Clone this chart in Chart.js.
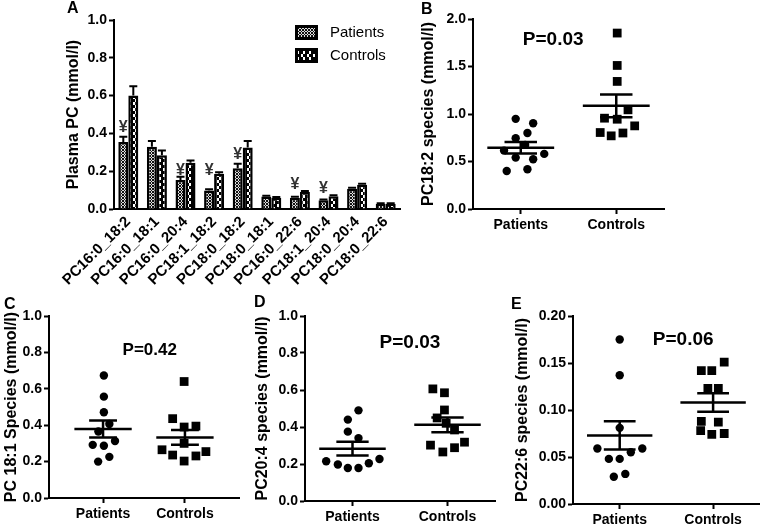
<!DOCTYPE html>
<html>
<head>
<meta charset="utf-8">
<script src="https://cdn.jsdelivr.net/npm/chart.js@4.4.0/dist/chart.umd.min.js"></script>
<style>
  html, body { margin: 0; padding: 0; background: #fff; }
  body { width: 766px; height: 527px; position: relative; overflow: hidden; }
  canvas { position: absolute; }
</style>
</head>
<body>
<canvas id="panelA" width="410" height="300" style="left:0;top:0"></canvas>
<canvas id="panelB" width="266" height="240" style="left:410px;top:0"></canvas>
<canvas id="panelC" width="255" height="237" style="left:0;top:290px"></canvas>
<canvas id="panelD" width="262" height="237" style="left:250px;top:290px"></canvas>
<canvas id="panelE" width="258" height="237" style="left:508px;top:290px"></canvas>
<script>
/* ---- data ---- */
const groups = ['Patients', 'Controls'];

// panel A: plasma PC species, mean and SEM
const categories = ['PC16:0_18:2', 'PC16:0_18:1', 'PC16:0_20:4', 'PC18:1_18:2', 'PC18:0_18:2',
                    'PC18:0_18:1', 'PC16:0_22:6', 'PC18:1_20:4', 'PC18:0_20:4', 'PC18:0_22:6'];
const patientsMean = [0.355, 0.33, 0.153, 0.098, 0.215, 0.066, 0.060, 0.046, 0.107, 0.028];
const patientsSem  = [0.027, 0.030, 0.018, 0.006, 0.025, 0.004, 0.005, 0.004, 0.006, 0.002];
const controlsMean = [0.600, 0.285, 0.245, 0.187, 0.325, 0.060, 0.090, 0.068, 0.128, 0.028];
const controlsSem  = [0.050, 0.025, 0.012, 0.008, 0.035, 0.004, 0.005, 0.005, 0.006, 0.002];
const yenHeights   = [0.43, null, 0.205, 0.205, 0.29, null, 0.13, 0.11, null, null];

// panel B: PC18:2 species, [x, value]
const pc182Patients = [[0.447, 0.949], [0.63, 0.903], [0.57, 0.80], [0.447, 0.745], [0.546, 0.675],
                       [0.325, 0.615], [0.447, 0.541], [0.63, 0.524], [0.746, 0.58], [0.353, 0.40], [0.57, 0.418]];
const pc182Controls = [[1.51, 1.852], [1.51, 1.511], [1.51, 1.343], [1.623, 1.044], [1.377, 0.956],
                       [1.51, 0.945], [1.693, 0.875], [1.332, 0.805], [1.447, 0.77], [1.57, 0.80]];
const pc182Mean = [0.645, 1.086];
const pc182Sem  = [0.06, 0.12];

// panel C: PC 18:1 species
const pc181Patients = [[0.51, 0.673], [0.51, 0.557], [0.51, 0.471], [0.577, 0.407], [0.443, 0.365],
                       [0.646, 0.313], [0.374, 0.292], [0.51, 0.287], [0.577, 0.226], [0.44, 0.20]];
const pc181Controls = [[1.49, 0.64], [1.35, 0.436], [1.49, 0.39], [1.634, 0.395], [1.49, 0.30],
                       [1.22, 0.265], [1.35, 0.236], [1.49, 0.203], [1.634, 0.231], [1.756, 0.255]];
const pc181Mean = [0.379, 0.333];
const pc181Sem  = [0.047, 0.04];

// panel D: PC20:4 species
const pc204Patients = [[0.563, 0.49], [0.451, 0.44], [0.451, 0.375], [0.563, 0.34], [0.223, 0.215],
                       [0.346, 0.197], [0.451, 0.178], [0.563, 0.178], [0.672, 0.204], [0.784, 0.227]];
const pc204Controls = [[1.346, 0.606], [1.468, 0.585], [1.468, 0.492], [1.391, 0.449], [1.486, 0.42],
                       [1.574, 0.384], [1.321, 0.302], [1.451, 0.265], [1.574, 0.288], [1.679, 0.318]];
const pc204Mean = [0.283, 0.412];
const pc204Sem  = [0.037, 0.04];

// panel E: PC22:6 species
const pc226Patients = [[0.5, 0.175], [0.5, 0.137], [0.5, 0.081], [0.261, 0.059], [0.742, 0.059],
                       [0.384, 0.048], [0.5, 0.048], [0.619, 0.055], [0.437, 0.029], [0.56, 0.032]];
const pc226Controls = [[1.619, 0.151], [1.374, 0.142], [1.486, 0.142], [1.444, 0.123], [1.556, 0.123],
                       [1.374, 0.088], [1.556, 0.087], [1.367, 0.078], [1.486, 0.074], [1.619, 0.075]];
const pc226Mean = [0.073, 0.108];
const pc226Sem  = [0.015, 0.0098];

/* ---- common style ---- */
Chart.defaults.font.family = "'Liberation Sans', Arial, sans-serif";
Chart.defaults.color = '#000';
const tickFont = { size: 14, weight: 'bold' };
const axisGrid = { drawOnChartArea: false, drawTicks: true, tickLength: 5, tickWidth: 2, tickColor: '#000' };
const axisBorder = { display: true, color: '#000', width: 2 };

function makePattern(kind) {
  const c = document.createElement('canvas');
  const g = c.getContext('2d');
  if (kind === 'check') {
    c.width = 3; c.height = 3;
    g.fillStyle = '#111'; g.fillRect(0, 0, 3, 3);
    g.fillStyle = '#ddd'; g.fillRect(1, 0, 1, 1); g.fillRect(0, 1, 1, 1); g.fillRect(2, 1, 1, 1); g.fillRect(1, 2, 1, 1);
  } else {
    c.width = 6; c.height = 6;
    g.fillStyle = '#000'; g.fillRect(0, 0, 6, 6);
    g.fillStyle = '#fff'; g.fillRect(1, 0, 2, 3); g.fillRect(3, 3, 2, 3);
  }
  return g.createPattern(c, 'repeat');
}
const patientsFill = makePattern('check');
const controlsFill = makePattern('zig');

/* ---- panel A: grouped bars ---- */
const barExtras = {
  id: 'barExtras',
  afterDatasetsDraw(chart) {
    const ctx = chart.ctx, y = chart.scales.y, ca = chart.chartArea;
    const sems = [patientsSem, controlsSem], means = [patientsMean, controlsMean];
    ctx.save();
    ctx.strokeStyle = '#000';
    ctx.lineWidth = 2;
    sems.forEach((sem, i) => {
      chart.getDatasetMeta(i).data.forEach((bar, j) => {
        const top = y.getPixelForValue(means[i][j] + sem[j]);
        ctx.beginPath();
        ctx.moveTo(bar.x, bar.y); ctx.lineTo(bar.x, top);
        ctx.moveTo(bar.x - 4, top); ctx.lineTo(bar.x + 4, top);
        ctx.stroke();
      });
    });
    // significance marks
    ctx.fillStyle = '#333';
    ctx.font = "bold 16px 'Liberation Sans', Arial, sans-serif";
    ctx.textAlign = 'center'; ctx.textBaseline = 'middle';
    chart.getDatasetMeta(0).data.forEach((bar, j) => {
      if (yenHeights[j] !== null) ctx.fillText('\u00A5', bar.x, y.getPixelForValue(yenHeights[j]));
    });
    // legend
    const fills = [patientsFill, controlsFill];
    ctx.font = "15px 'Liberation Sans', Arial, sans-serif";
    ctx.textAlign = 'left';
    groups.forEach((name, i) => {
      const bx = ca.left + 181, by = ca.top + 5 + i * 23;
      ctx.fillStyle = '#000'; ctx.fillRect(bx, by, 23, 15);
      ctx.fillStyle = fills[i]; ctx.fillRect(bx + 3, by + 3, 17, 9);
      ctx.fillStyle = '#000'; ctx.fillText(name, bx + 35, by + 8);
    });
    // panel letter
    ctx.font = "bold 16px 'Liberation Sans', Arial, sans-serif";
    ctx.fillText('A', 67, 9);
    ctx.restore();
  }
};

new Chart(document.getElementById('panelA'), {
  type: 'bar',
  data: {
    labels: categories,
    datasets: [
      { label: groups[0], data: patientsMean, backgroundColor: patientsFill, borderColor: '#000', borderWidth: 2.5 },
      { label: groups[1], data: controlsMean, backgroundColor: controlsFill, borderColor: '#000', borderWidth: 2.5 }
    ]
  },
  options: {
    responsive: false, animation: false, events: [],
    categoryPercentage: 0.7, barPercentage: 1.0,
    layout: { padding: { left: 64, top: 20, right: 10, bottom: 0 } },
    plugins: { legend: { display: false }, tooltip: { enabled: false } },
    scales: {
      x: {
        afterFit: s => { s.height = 91; },
        ticks: { font: { size: 15, weight: 'bold' }, color: '#000', minRotation: 45, maxRotation: 45, autoSkip: false, padding: 4 },
        grid: { display: false, drawTicks: false },
        border: axisBorder
      },
      y: {
        min: 0, max: 1,
        afterFit: s => { s.width = 50; },
        ticks: { stepSize: 0.2, callback: v => v.toFixed(1), font: tickFont, color: '#000', padding: 2 },
        grid: axisGrid,
        border: axisBorder,
        title: { display: true, text: 'Plasma PC (mmol/l)', font: { size: 16, weight: 'bold' }, color: '#000', padding: 0 }
      }
    }
  },
  plugins: [barExtras]
});

/* ---- panels B-E: dot plots with mean and SEM ---- */
function dotPlot(id, o) {
  const extras = {
    id: 'dotExtras',
    afterDatasetsDraw(chart) {
      const ctx = chart.ctx, x = chart.scales.x, y = chart.scales.y;
      ctx.save();
      ctx.strokeStyle = '#000';
      ctx.lineWidth = 2.5;
      o.mean.forEach((m, g) => {
        const xc = 0.5 + g;
        const hline = (v, half) => {
          ctx.moveTo(x.getPixelForValue(xc - half), y.getPixelForValue(v));
          ctx.lineTo(x.getPixelForValue(xc + half), y.getPixelForValue(v));
        };
        ctx.beginPath();
        hline(m, 0.35);
        hline(m + o.sem[g], 0.17);
        hline(m - o.sem[g], 0.17);
        ctx.moveTo(x.getPixelForValue(xc), y.getPixelForValue(m - o.sem[g]));
        ctx.lineTo(x.getPixelForValue(xc), y.getPixelForValue(m + o.sem[g]));
        ctx.stroke();
      });
      ctx.fillStyle = '#000';
      ctx.textAlign = 'center'; ctx.textBaseline = 'middle';
      ctx.font = 'bold ' + o.pSize + "px 'Liberation Sans', Arial, sans-serif";
      ctx.fillText(o.pText, x.getPixelForValue(o.pAt[0]), y.getPixelForValue(o.pAt[1]));
      ctx.textAlign = 'left';
      ctx.font = "bold 16px 'Liberation Sans', Arial, sans-serif";
      ctx.fillText(o.letter, o.letterAt[0], o.letterAt[1]);
      ctx.restore();
    }
  };
  return new Chart(document.getElementById(id), {
    type: 'scatter',
    data: {
      datasets: [
        { label: groups[0], data: o.patients.map(p => ({ x: p[0], y: p[1] })), pointStyle: 'circle',
          pointRadius: 4.2, backgroundColor: '#000', borderWidth: 0 },
        { label: groups[1], data: o.controls.map(p => ({ x: p[0], y: p[1] })), pointStyle: 'rect',
          pointRadius: 6.2, backgroundColor: '#000', borderWidth: 0 }
      ]
    },
    options: {
      responsive: false, animation: false, events: [],
      layout: { padding: o.pad },
      plugins: { legend: { display: false }, tooltip: { enabled: false } },
      scales: {
        x: {
          type: 'linear', min: o.xRange[0], max: o.xRange[1],
          afterBuildTicks: s => { s.ticks = [{ value: 0.5 }, { value: 1.5 }]; },
          afterFit: s => { s.height = o.xH; },
          ticks: { callback: (v, i) => groups[i], font: tickFont, color: '#000', padding: 3, autoSkip: false, maxRotation: 0 },
          grid: axisGrid,
          border: axisBorder
        },
        y: {
          min: 0, max: o.yMax,
          afterFit: s => { s.width = o.yW; },
          ticks: { stepSize: o.step, callback: v => v.toFixed(o.dec), font: tickFont, color: '#000', padding: 2 },
          grid: axisGrid,
          border: axisBorder,
          title: { display: true, text: o.title, font: { size: 16, weight: 'bold' }, color: '#000', padding: 0 }
        }
      }
    },
    plugins: [extras]
  });
}

dotPlot('panelB', {
  patients: pc182Patients, controls: pc182Controls, mean: pc182Mean, sem: pc182Sem,
  title: 'PC18:2 species (mmol/l)', yMax: 2, step: 0.5, dec: 1, xRange: [0, 2],
  pad: { left: 9, top: 19, right: 12, bottom: 0 }, yW: 54, xH: 31,
  pText: 'P=0.03', pSize: 19, pAt: [0.84, 1.78], letter: 'B', letterAt: [11, 10]
});
dotPlot('panelC', {
  patients: pc181Patients, controls: pc181Controls, mean: pc181Mean, sem: pc181Sem,
  title: 'PC 18:1 Species (mmol/l)', yMax: 1, step: 0.2, dec: 1, xRange: [-0.16, 2.16],
  pad: { left: 2, top: 26, right: 16, bottom: 0 }, yW: 47, xH: 29,
  pText: 'P=0.42', pSize: 17, pAt: [1.07, 0.813], letter: 'C', letterAt: [4, 15]
});
dotPlot('panelD', {
  patients: pc204Patients, controls: pc204Controls, mean: pc204Mean, sem: pc204Sem,
  title: 'PC20:4 species (mmol/l)', yMax: 1, step: 0.2, dec: 1, xRange: [0, 2],
  pad: { left: 3, top: 26, right: 17, bottom: 0 }, yW: 52, xH: 26,
  pText: 'P=0.03', pSize: 19, pAt: [1.105, 0.854], letter: 'D', letterAt: [4, 13]
});
dotPlot('panelE', {
  patients: pc226Patients, controls: pc226Controls, mean: pc226Mean, sem: pc226Sem,
  title: 'PC22:6 species (mmol/l)', yMax: 0.2, step: 0.05, dec: 2, xRange: [0, 2],
  pad: { left: 5, top: 26, right: 3, bottom: 0 }, yW: 60, xH: 23,
  pText: 'P=0.06', pSize: 19, pAt: [1.18, 0.1745], letter: 'E', letterAt: [3, 15]
});
</script>
</body>
</html>
